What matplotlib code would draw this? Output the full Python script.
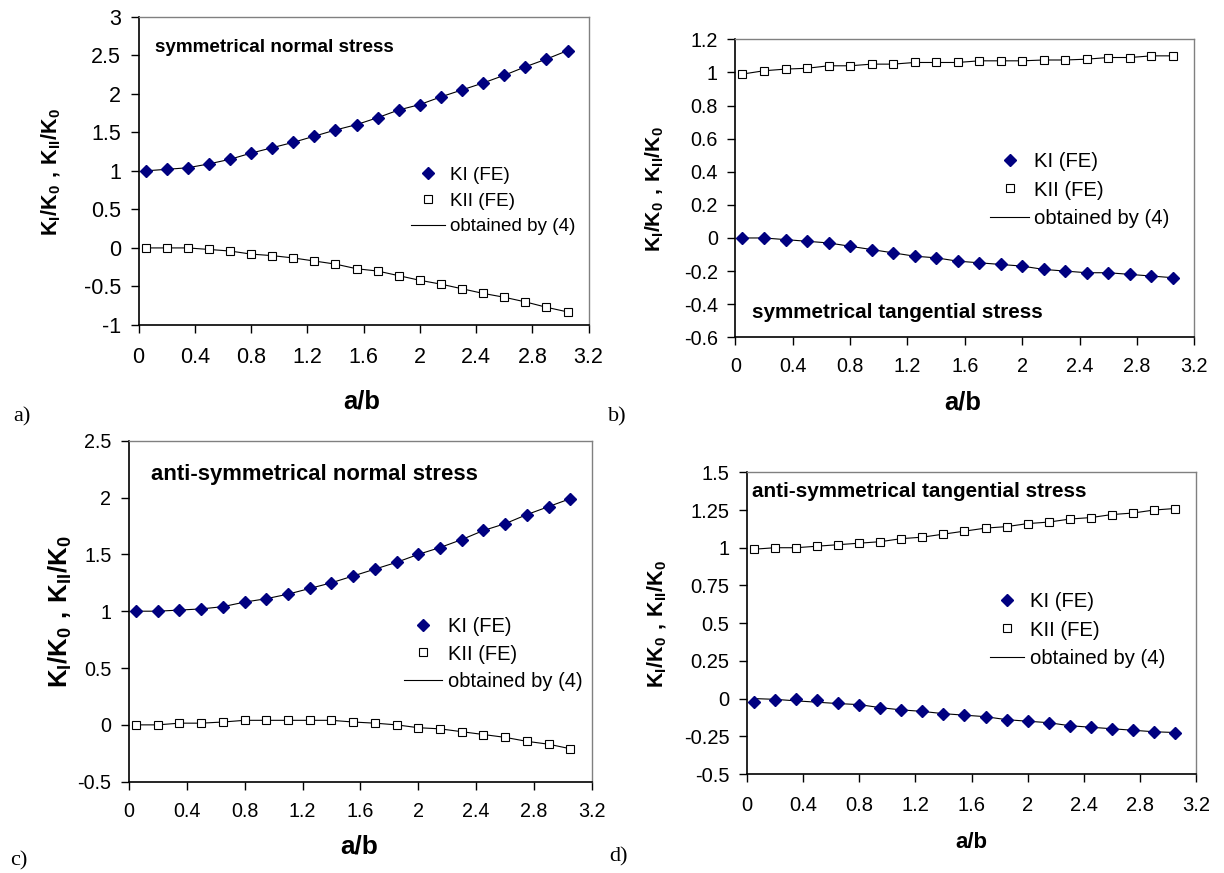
import numpy as np
import matplotlib.pyplot as plt
from matplotlib.lines import Line2D

plt.rcParams['font.family'] = ['Liberation Sans', 'DejaVu Sans']
plt.rcParams['axes.unicode_minus'] = False
plt.rcParams['mathtext.fontset'] = 'custom'
plt.rcParams['mathtext.rm'] = 'Liberation Sans'
plt.rcParams['mathtext.bf'] = 'Liberation Sans:bold'

W, H = 1224, 873

# a/b values (21 FE points)
ab = [0.05, 0.2, 0.35, 0.5, 0.65, 0.8, 0.95, 1.1, 1.25, 1.4, 1.55,
      1.7, 1.85, 2.0, 2.15, 2.3, 2.45, 2.6, 2.75, 2.9, 3.05]

# a) symmetrical normal stress
a_ki = [1.00, 1.02, 1.04, 1.09, 1.15, 1.23, 1.30, 1.37, 1.45, 1.53, 1.60,
        1.69, 1.79, 1.86, 1.96, 2.05, 2.14, 2.24, 2.35, 2.45, 2.56]
a_kii = [0.0, 0.0, 0.0, -0.02, -0.04, -0.08, -0.10, -0.13, -0.17, -0.21, -0.27,
         -0.30, -0.36, -0.42, -0.47, -0.53, -0.59, -0.64, -0.70, -0.77, -0.83]

# b) symmetrical tangential stress
b_ki = [0.0, 0.0, -0.01, -0.02, -0.03, -0.05, -0.07, -0.09, -0.11, -0.12, -0.14,
        -0.15, -0.16, -0.17, -0.19, -0.20, -0.21, -0.21, -0.22, -0.23, -0.24]
b_kii = [0.99, 1.01, 1.02, 1.025, 1.04, 1.04, 1.05, 1.05, 1.06, 1.06, 1.06,
         1.07, 1.07, 1.07, 1.075, 1.075, 1.08, 1.09, 1.09, 1.10, 1.10]

# c) anti-symmetrical normal stress
c_ki = [1.0, 1.0, 1.01, 1.02, 1.04, 1.08, 1.11, 1.15, 1.20, 1.25, 1.31,
        1.37, 1.43, 1.50, 1.56, 1.63, 1.71, 1.77, 1.85, 1.92, 1.99]
c_kii = [0.0, 0.0, 0.015, 0.015, 0.025, 0.04, 0.04, 0.04, 0.04, 0.04, 0.025,
         0.015, 0.0, -0.025, -0.035, -0.06, -0.085, -0.11, -0.145, -0.17, -0.21]

# d) anti-symmetrical tangential stress
d_ki = [-0.02, -0.01, 0.0, -0.01, -0.03, -0.04, -0.06, -0.075, -0.085, -0.10, -0.11,
        -0.12, -0.14, -0.15, -0.16, -0.18, -0.19, -0.20, -0.21, -0.22, -0.225]
d_ki_line = [0.0, -0.005, -0.015, -0.024, -0.033, -0.04, -0.06, -0.075, -0.085, -0.10, -0.11,
             -0.12, -0.14, -0.15, -0.16, -0.18, -0.19, -0.20, -0.21, -0.22, -0.225]
d_kii = [0.99, 1.0, 1.0, 1.01, 1.02, 1.03, 1.04, 1.06, 1.07, 1.09, 1.11,
         1.13, 1.14, 1.16, 1.17, 1.19, 1.20, 1.22, 1.23, 1.25, 1.26]

x_ticks = [0, 0.4, 0.8, 1.2, 1.6, 2.0, 2.4, 2.8, 3.2]
a_yticks = [-1, -0.5, 0, 0.5, 1, 1.5, 2, 2.5, 3]
b_yticks = [-0.6, -0.4, -0.2, 0, 0.2, 0.4, 0.6, 0.8, 1, 1.2]
c_yticks = [-0.5, 0, 0.5, 1, 1.5, 2, 2.5]
d_yticks = [-0.5, -0.25, 0, 0.25, 0.5, 0.75, 1, 1.25, 1.5]

legend_labels = ['KI (FE)', 'KII (FE)', 'obtained by (4)']
ylab = r'$\mathbf{K_I/K_0\ ,\,K_{II}/K_0}$'


def fx(x):
    return x / W


def fy(y):
    return 1 - y / H


def fmt(v):
    return f'{v:g}'


fig = plt.figure(figsize=(W / 100, H / 100), dpi=100)

# panel settings: box (left, top, right, bottom) in pixels
panels = [
    dict(box=(138.6, 16.7, 588.6, 325), ki=a_ki, kii=a_kii, ki_line=a_ki, yticks=a_yticks,
         tick_fs=15.5, xpad=10, title='symmetrical normal stress', title_xy=(154.6, 48), title_fs=13.6,
         ylab_xy=(51, 172), ylab_fs=15.5, xlab_xy=(362, 402), xlab_fs=18.4,
         tag='a)', tag_xy=(22, 417), leg_xy=(411, 201), leg_fs=13.6, hl=34, lsp=0.45),
    dict(box=(735.3, 39.3, 1194.4, 337.3), ki=b_ki, kii=b_kii, ki_line=b_ki, yticks=b_yticks,
         tick_fs=14.2, xpad=9, title='symmetrical tangential stress', title_xy=(752.5, 313), title_fs=14.9,
         ylab_xy=(655, 189), ylab_fs=15.2, xlab_xy=(963, 403), xlab_fs=18.4,
         tag='b)', tag_xy=(617, 417), leg_xy=(990, 190), leg_fs=14.6, hl=39, lsp=0.45),
    dict(box=(128.8, 440.7, 592, 781.7), ki=c_ki, kii=c_kii, ki_line=c_ki, yticks=c_yticks,
         tick_fs=14.2, xpad=9, title='anti-symmetrical normal stress', title_xy=(150.7, 475), title_fs=15.9,
         ylab_xy=(60.5, 611.7), ylab_fs=18.5, xlab_xy=(359, 846.7), xlab_fs=18.8,
         tag='c)', tag_xy=(19, 861), leg_xy=(404, 654), leg_fs=14.5, hl=38, lsp=0.42),
    dict(box=(746.7, 472.3, 1196.3, 774), ki=d_ki, kii=d_kii, ki_line=d_ki_line, yticks=d_yticks,
         tick_fs=14.5, xpad=10, title='anti-symmetrical tangential stress', title_xy=(752.5, 491.7), title_fs=14.9,
         ylab_xy=(657, 624), ylab_fs=15.5, xlab_xy=(971, 843), xlab_fs=16,
         tag='d)', tag_xy=(618, 857), leg_xy=(990, 630), leg_fs=14.6, hl=34, lsp=0.45),
]

for p in panels:
    l, t, r, b = p['box']
    ax = fig.add_axes([fx(l), fy(b), fx(r - l), (b - t) / H])

    # curves by (4)
    ax.plot(ab, p['ki_line'], color='black', lw=0.8, zorder=2)
    ax.plot(ab, p['kii'], color='black', lw=0.8, zorder=2)
    # FE points
    ax.plot(ab, p['ki'], linestyle='none', marker='D', ms=6, color='#000080',
            markeredgecolor='#000080', zorder=3)
    ax.plot(ab, p['kii'], linestyle='none', marker='s', ms=5.5, markerfacecolor='white',
            markeredgecolor='black', markeredgewidth=0.8, zorder=3)

    ax.set_xlim(0, 3.2)
    ax.set_ylim(p['yticks'][0], p['yticks'][-1])
    ax.set_xticks(x_ticks)
    ax.set_xticklabels([fmt(v) for v in x_ticks])
    ax.set_yticks(p['yticks'])
    ax.set_yticklabels([fmt(v) for v in p['yticks']])
    ax.tick_params(axis='x', direction='out', length=5.5, width=1, pad=p['xpad'],
                   labelsize=p['tick_fs'])
    ax.tick_params(axis='y', direction='out', length=5.5, width=1, pad=7,
                   labelsize=p['tick_fs'])

    for s in ['left', 'bottom']:
        ax.spines[s].set_color('black')
        ax.spines[s].set_linewidth(1.2)
    for s in ['top', 'right']:
        ax.spines[s].set_color('#808080')
        ax.spines[s].set_linewidth(1.0)

    handles = [
        Line2D([], [], linestyle='none', marker='D', ms=6, color='#000080'),
        Line2D([], [], linestyle='none', marker='s', ms=5.5, markerfacecolor='white',
               markeredgecolor='black', markeredgewidth=0.8),
        Line2D([], [], color='black', lw=0.8),
    ]
    fs_px = p['leg_fs'] * 100 / 72
    ax.legend(handles, legend_labels, loc='center left', frameon=False,
              bbox_to_anchor=(fx(p['leg_xy'][0]), fy(p['leg_xy'][1])),
              bbox_transform=fig.transFigure, borderpad=0, borderaxespad=0,
              handlelength=p['hl'] / fs_px, handletextpad=5.5 / fs_px,
              labelspacing=p['lsp'], fontsize=p['leg_fs'])

    fig.text(fx(p['title_xy'][0]), fy(p['title_xy'][1]), p['title'], fontsize=p['title_fs'],
             fontweight='bold', ha='left', va='center')
    fig.text(fx(p['ylab_xy'][0]), fy(p['ylab_xy'][1]), ylab, fontsize=p['ylab_fs'],
             rotation=90, ha='center', va='center')
    fig.text(fx(p['xlab_xy'][0]), fy(p['xlab_xy'][1]), 'a/b', fontsize=p['xlab_fs'],
             fontweight='bold', ha='center', va='center')
    fig.text(fx(p['tag_xy'][0]), fy(p['tag_xy'][1]), p['tag'], fontsize=16,
             family=['Liberation Serif', 'DejaVu Serif'], ha='center', va='center')

fig.savefig('out.png', dpi=100)
